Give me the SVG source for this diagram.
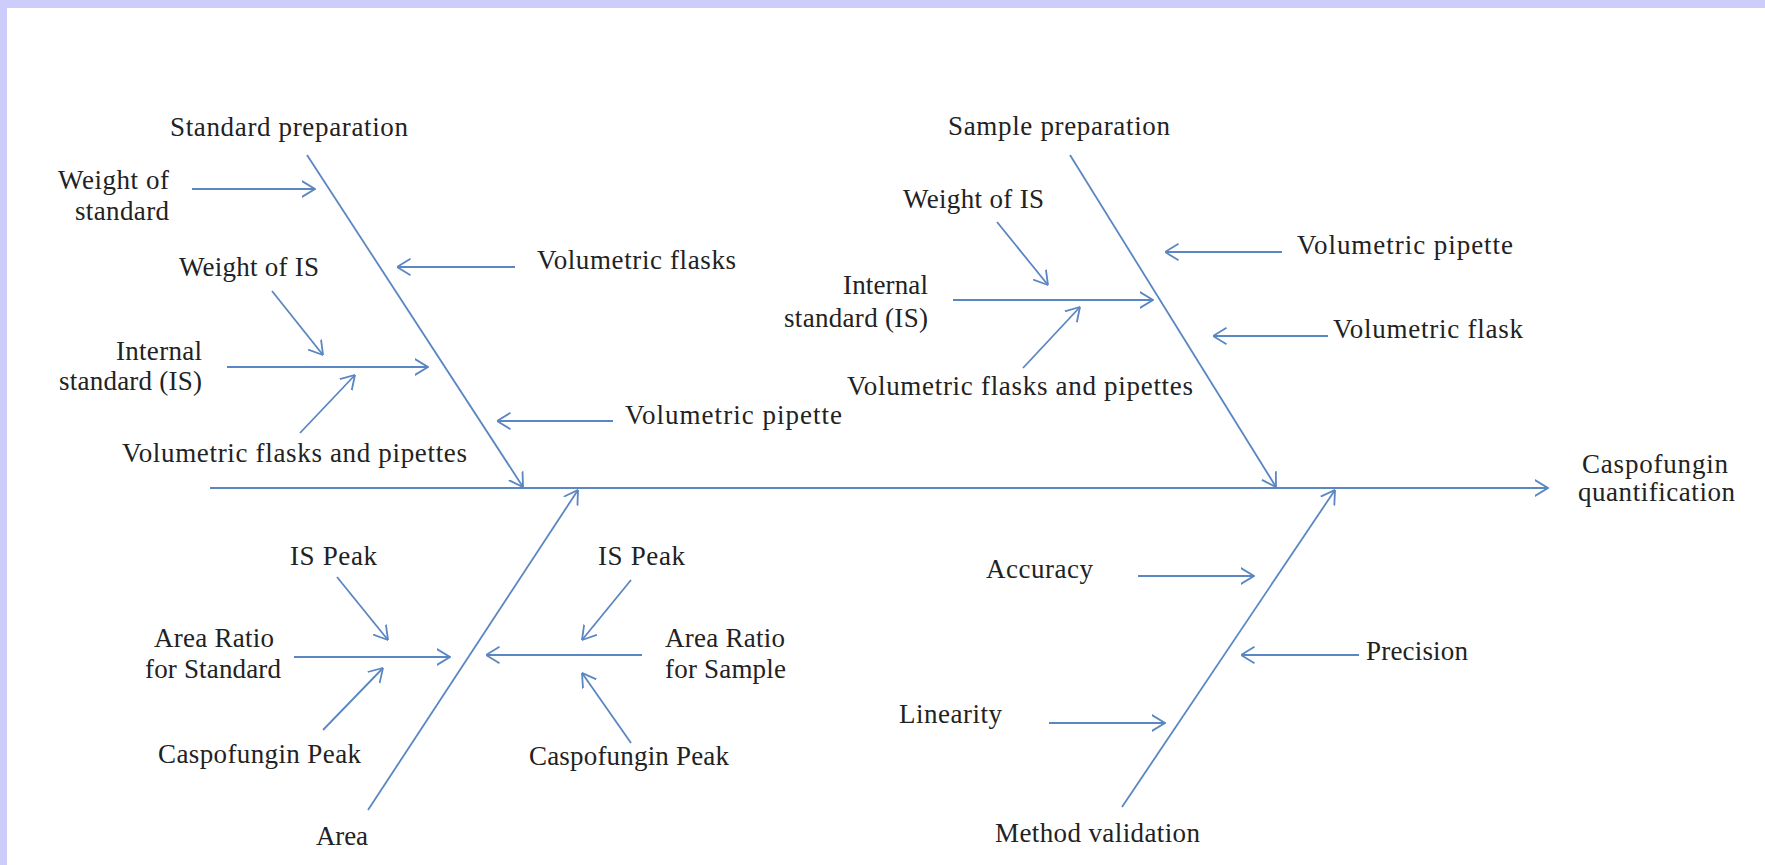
<svg xmlns="http://www.w3.org/2000/svg" width="1765" height="865" viewBox="0 0 1765 865">
<style>
text{font-family:"Liberation Serif","Times New Roman",serif;font-size:27px;fill:#222;}
.c line{stroke:#5a86c2;stroke-width:1.8;fill:none;marker-end:url(#ah);}
</style>
<defs>
<marker id="ah" markerUnits="userSpaceOnUse" viewBox="0 0 14 18" refX="13.5" refY="9" markerWidth="14" markerHeight="18" orient="auto">
<path d="M0,0.8 L13.5,9 L0,17.2" fill="none" stroke="#5a86c2" stroke-width="1.8"/>
</marker>
</defs>
<rect x="0" y="0" width="1765" height="865" fill="#cdcdfb"/>
<rect x="7" y="8" width="1758" height="857" fill="#ffffff"/>
<g class="c" id="connectors">
<line x1="210" y1="488" x2="1548" y2="488"/>
<line x1="307" y1="155" x2="523" y2="487"/>
<line x1="1070" y1="155" x2="1276" y2="487"/>
<line x1="368" y1="810" x2="578" y2="490"/>
<line x1="1122" y1="807" x2="1335" y2="490"/>
<line x1="192" y1="189" x2="315" y2="189"/>
<line x1="515" y1="267" x2="397" y2="267"/>
<line x1="272" y1="291" x2="323" y2="355"/>
<line x1="227" y1="367" x2="428" y2="367"/>
<line x1="300" y1="433" x2="355" y2="375"/>
<line x1="613" y1="421" x2="497" y2="421"/>
<line x1="997" y1="222" x2="1048" y2="285"/>
<line x1="953" y1="300" x2="1153" y2="300"/>
<line x1="1023" y1="368" x2="1080" y2="307"/>
<line x1="1282" y1="252" x2="1165" y2="252"/>
<line x1="1328" y1="336" x2="1213" y2="336"/>
<line x1="337" y1="577" x2="388" y2="640"/>
<line x1="294" y1="657" x2="450" y2="657"/>
<line x1="323" y1="730" x2="383" y2="668"/>
<line x1="631" y1="580" x2="582" y2="640"/>
<line x1="642" y1="655" x2="486" y2="655"/>
<line x1="631" y1="743" x2="582" y2="673"/>
<line x1="1138" y1="576" x2="1254" y2="576"/>
<line x1="1359" y1="655" x2="1241" y2="655"/>
<line x1="1049" y1="723" x2="1165" y2="723"/>
</g>
<g id="standard-preparation"><text x="170" y="136" textLength="238" lengthAdjust="spacing">Standard preparation</text></g>
<g id="weight-of-standard"><text x="58" y="189" textLength="111" lengthAdjust="spacing">Weight of</text><text x="75" y="220" textLength="94" lengthAdjust="spacing">standard</text></g>
<g id="weight-of-is-1"><text x="179" y="276" textLength="140" lengthAdjust="spacing">Weight of IS</text></g>
<g id="internal-standard-1"><text x="116" y="360" textLength="86" lengthAdjust="spacing">Internal</text><text x="59" y="390" textLength="143" lengthAdjust="spacing">standard (IS)</text></g>
<g id="vfp-1"><text x="122" y="462" textLength="345" lengthAdjust="spacing">Volumetric  flasks and pipettes</text></g>
<g id="volumetric-flasks"><text x="537" y="269" textLength="199" lengthAdjust="spacing">Volumetric  flasks</text></g>
<g id="volumetric-pipette-1"><text x="625" y="424" textLength="217" lengthAdjust="spacing">Volumetric  pipette</text></g>
<g id="sample-preparation"><text x="948" y="135" textLength="222" lengthAdjust="spacing">Sample preparation</text></g>
<g id="weight-of-is-2"><text x="903" y="208" textLength="141" lengthAdjust="spacing">Weight  of IS</text></g>
<g id="internal-standard-2"><text x="843" y="294" textLength="85" lengthAdjust="spacing">Internal</text><text x="784" y="327" textLength="144" lengthAdjust="spacing">standard (IS)</text></g>
<g id="vfp-2"><text x="847" y="395" textLength="346" lengthAdjust="spacing">Volumetric  flasks and pipettes</text></g>
<g id="volumetric-pipette-2"><text x="1297" y="254" textLength="216" lengthAdjust="spacing">Volumetric  pipette</text></g>
<g id="volumetric-flask"><text x="1333" y="338" textLength="190" lengthAdjust="spacing">Volumetric  flask</text></g>
<g id="caspofungin-quantification"><text x="1582" y="473" textLength="146" lengthAdjust="spacing">Caspofungin</text><text x="1578" y="501" textLength="157" lengthAdjust="spacing">quantification</text></g>
<g id="is-peak-1"><text x="290" y="565" textLength="87" lengthAdjust="spacing">IS Peak</text></g>
<g id="area-ratio-standard"><text x="154" y="647" textLength="120" lengthAdjust="spacing">Area Ratio</text><text x="145" y="678" textLength="136" lengthAdjust="spacing">for Standard</text></g>
<g id="caspofungin-peak-1"><text x="158" y="763" textLength="203" lengthAdjust="spacing">Caspofungin Peak</text></g>
<g id="area"><text x="316" y="845" textLength="52" lengthAdjust="spacing">Area</text></g>
<g id="is-peak-2"><text x="598" y="565" textLength="87" lengthAdjust="spacing">IS Peak</text></g>
<g id="area-ratio-sample"><text x="665" y="647" textLength="120" lengthAdjust="spacing">Area Ratio</text><text x="665" y="678" textLength="121" lengthAdjust="spacing">for Sample</text></g>
<g id="caspofungin-peak-2"><text x="529" y="765" textLength="200" lengthAdjust="spacing">Caspofungin Peak</text></g>
<g id="accuracy"><text x="986" y="578" textLength="107" lengthAdjust="spacing">Accuracy</text></g>
<g id="precision"><text x="1366" y="660" textLength="102" lengthAdjust="spacing">Precision</text></g>
<g id="linearity"><text x="899" y="723" textLength="103" lengthAdjust="spacing">Linearity</text></g>
<g id="method-validation"><text x="995" y="842" textLength="205" lengthAdjust="spacing">Method validation</text></g>
</svg>
